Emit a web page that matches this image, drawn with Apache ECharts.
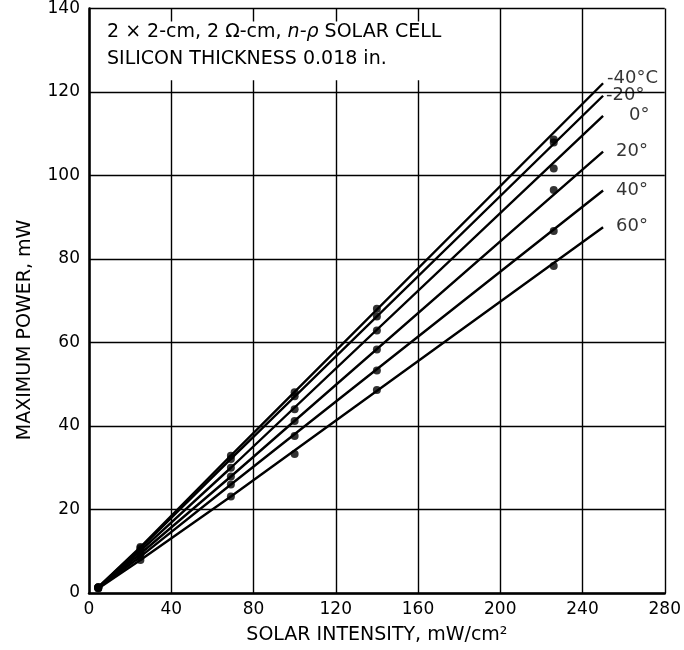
<!DOCTYPE html>
<html>
<head>
<meta charset="utf-8">
<script src="https://cdn.jsdelivr.net/npm/echarts@6/dist/echarts.min.js"></script>
<style>html,body{margin:0;padding:0;background:#fff;}#c{width:684px;height:650px;}</style>
</head>
<body>
<div id="c"></div>
<script>
// ---- data ----
const xTicks = [0, 40, 80, 120, 160, 200, 240, 280];
const yTicks = [0, 20, 40, 60, 80, 100, 120, 140];
const xPoints = [4.5, 25, 69, 100, 140, 226];
const temps = ['-40°C', '-20°', '0°', '20°', '40°', '60°'];
const pM40 = [1.4, 11.0, 32.9, 48.1, 68.1, 108.6];
const pM20 = [1.4, 10.7, 32.1, 47.1, 66.2, 107.9];
const p0   = [1.3, 10.1, 30.0, 44.0, 62.9, 101.7];
const p20  = [1.3, 9.4, 27.9, 41.2, 58.3, 96.5];
const p40  = [1.2, 8.7, 26.0, 37.6, 53.3, 86.7];
const p60  = [1.1, 7.9, 23.1, 33.3, 48.6, 78.3];
const lineX = [4.5, 25, 69, 250];
const lM40 = [1.4, 11.0, 32.9, 122.1];
const lM20 = [1.4, 10.7, 32.1, 119.1];
const l0   = [1.3, 10.1, 30.0, 114.3];
const l20  = [1.3, 9.4, 27.9, 105.7];
const l40  = [1.2, 8.7, 26.0, 96.4];
const l60  = [1.1, 7.9, 23.1, 87.6];
const titleLine1 = '2 × 2-cm, 2 Ω-cm, {i|n-ρ} SOLAR CELL';
const titleLine2 = 'SILICON THICKNESS 0.018 in.';

const pointSets = [pM40, pM20, p0, p20, p40, p60];
const lineSets = [lM40, lM20, l0, l20, l40, l60];
const labelOffsets = [[4, -5], [3, 0], [26, 0], [13, 0], [13, 0], [13, -1]];
const FONT = 'DejaVu Sans';

const series = [];
// white inset box
series.push({
  type: 'line', data: [], silent: true,
  markArea: {
    silent: true,
    itemStyle: { color: '#fff', borderWidth: 0 },
    data: [[{ coord: [1, 122.8] }, { coord: [185, 136.9] }]]
  }
});
lineSets.forEach((ys, k) => {
  series.push({
    type: 'line', symbol: 'none', silent: true,
    lineStyle: { color: '#000', width: 2.4 },
    data: lineX.map((x, i) => [x, ys[i]]),
    z: 3
  });
  series.push({
    type: 'scatter', symbol: 'circle', symbolSize: 8, silent: true,
    itemStyle: { color: '#000' },
    data: xPoints.map((x, i) => [x, pointSets[k][i]]),
    z: 4
  });
  series.push({
    type: 'scatter', symbolSize: 0, silent: true,
    data: [[lineX[lineX.length - 1], ys[ys.length - 1]]],
    label: {
      show: true, position: 'right', distance: 0,
      offset: labelOffsets[k],
      formatter: temps[k],
      color: '#000', fontFamily: FONT, fontSize: 18
    },
    z: 5
  });
});

const chart = echarts.init(document.getElementById('c'), null, { renderer: 'canvas' });
chart.setOption({
  animation: false,
  backgroundColor: '#fff',
  grid: { left: 89, right: 15, top: 5, bottom: 57 },
  xAxis: {
    type: 'value', min: 0, max: 280, interval: 40,
    name: 'SOLAR INTENSITY, mW/cm²', nameLocation: 'middle', nameGap: 33,
    nameTextStyle: { color: '#000', fontFamily: FONT, fontSize: 19 },
    axisLine: { show: true, lineStyle: { color: '#000', width: 2.5 } },
    axisTick: { show: false },
    axisLabel: { color: '#000', fontFamily: FONT, fontSize: 17, margin: 8,
      formatter: v => xTicks.includes(v) ? String(v) : '' },
    splitLine: { show: true, lineStyle: { color: '#000', width: 1.4 } }
  },
  yAxis: {
    type: 'value', min: 0, max: 140, interval: 20,
    axisLine: { show: true, lineStyle: { color: '#000', width: 2.5 } },
    axisTick: { show: false },
    axisLabel: { color: '#000', fontFamily: FONT, fontSize: 17, margin: 9,
      formatter: v => yTicks.includes(v) ? String(v) : '' },
    splitLine: { show: true, lineStyle: { color: '#000', width: 1.4 } }
  },
  graphic: [
    { type: 'text', left: 107, top: 23, z: 100,
      style: { text: titleLine1, fill: '#000', font: '19px "DejaVu Sans"',
        rich: { i: { fontStyle: 'italic', fontFamily: FONT, fontSize: 19 } } } },
    { type: 'text', left: 107, top: 50, z: 100,
      style: { text: titleLine2, fill: '#000', font: '19px "DejaVu Sans"' } },
    { type: 'text', x: 25, y: 330, rotation: Math.PI / 2, z: 100,
      style: { text: 'MAXIMUM POWER, mW', fill: '#000', font: '19px "DejaVu Sans"',
        textAlign: 'center', textVerticalAlign: 'middle' } }
  ],
  series: series
});
</script>
</body>
</html>
